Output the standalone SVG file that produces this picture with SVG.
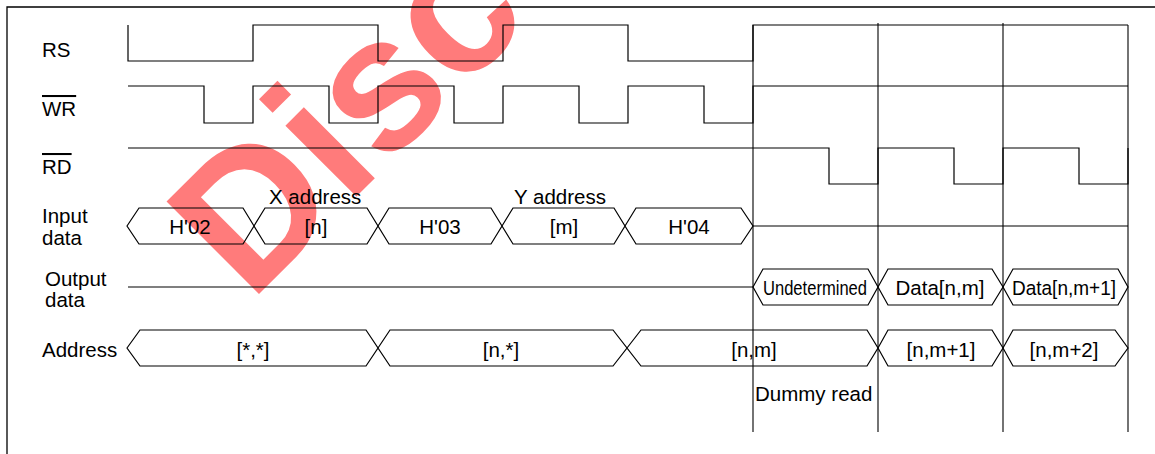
<svg xmlns="http://www.w3.org/2000/svg" width="1155" height="454" viewBox="0 0 1155 454">
<style>
.sig{fill:none;stroke:#000;stroke-width:1.2;stroke-linejoin:miter}
.bus{fill:none;stroke:#000;stroke-width:1.2}
.grid{stroke:#000;stroke-width:1.1}
.frame{stroke:#000;stroke-width:1.3;fill:none}
.t{font-family:"Liberation Sans",Arial,sans-serif;font-size:20.5px;fill:#000}
.c{text-anchor:middle}
.ov{text-decoration:overline}
.wm{font-family:"Liberation Sans",Arial,sans-serif;font-weight:bold;font-size:190px;fill:#FF7B7B}
</style>
<rect x="0" y="0" width="1155" height="454" fill="#fff"/>
<g id="watermark">
<text class="wm" transform="translate(250,303) rotate(-45)">Disc</text>
</g>
<path class="frame" d="M7,454 V7 H1155"/>
<g id="connectors">
<line class="grid" x1="753" y1="25" x2="753" y2="432"/>
<line class="grid" x1="878" y1="23" x2="878" y2="432"/>
<line class="grid" x1="1003" y1="23" x2="1003" y2="432"/>
<line class="grid" x1="1128" y1="25" x2="1128" y2="432"/>
</g>
<g id="rs">
<text class="t" x="42" y="57">RS</text>
<path class="sig" d="M128,25 V61 H253 V25 H378 V61 H503 V25 H628 V61 H753 V25 H1128"/>
</g>
<g id="wr">
<text class="t ov" x="42" y="116">WR</text>
<path class="sig" d="M128,86 H204 V123 H253 V86 H329 V123 H378 V86 H454 V123 H503 V86 H579 V123 H628 V86 H704 V123 H753 V86 H1128"/>
</g>
<g id="rd">
<text class="t ov" x="42" y="174">RD</text>
<path class="sig" d="M128,148 H829 V184 H878 V148 H954 V184 H1003 V148 H1079 V184 H1128 V148"/>
</g>
<g id="input-data">
<text class="t" x="42" y="223">Input</text>
<text class="t" x="42" y="245">data</text>
<text class="t" x="269" y="204">X address</text>
<text class="t" x="514" y="204">Y address</text>
<polygon class="bus" points="127,226 139,208 243,208 254,226 243,244 139,244"/>
<polygon class="bus" points="254,226 265,208 367,208 378,226 367,244 265,244"/>
<polygon class="bus" points="378,226 389,208 491,208 502,226 491,244 389,244"/>
<polygon class="bus" points="502,226 513,208 614,208 625,226 614,244 513,244"/>
<polygon class="bus" points="625,226 636,208 741,208 753,226 741,244 636,244"/>
<line class="bus" x1="753" y1="226" x2="1128" y2="226"/>
<text class="t c" x="190" y="234">H'02</text>
<text class="t c" x="316" y="234">[n]</text>
<text class="t c" x="440" y="234">H'03</text>
<text class="t c" x="564" y="234">[m]</text>
<text class="t c" x="689" y="234">H'04</text>
</g>
<g id="output-data">
<text class="t" x="45" y="286">Output</text>
<text class="t" x="45" y="307">data</text>
<line class="bus" x1="128" y1="287" x2="753" y2="287"/>
<polygon class="bus" points="753,287 763,269 868,269 878,287 868,305 763,305"/>
<polygon class="bus" points="878,287 888,269 992,269 1003,287 992,305 888,305"/>
<polygon class="bus" points="1003,287 1013,269 1118,269 1128,287 1118,305 1013,305"/>
<text class="t" x="763" y="295" textLength="104" lengthAdjust="spacingAndGlyphs">Undetermined</text>
<text class="t c" x="940" y="295">Data[n,m]</text>
<text class="t" x="1012" y="295" textLength="104" lengthAdjust="spacingAndGlyphs">Data[n,m+1]</text>
</g>
<g id="address">
<text class="t" x="42" y="357">Address</text>
<polygon class="bus" points="127,348 140,330 366,330 378,348 366,366 140,366"/>
<polygon class="bus" points="378,348 390,330 613,330 627,348 613,366 390,366"/>
<polygon class="bus" points="627,348 641,330 867,330 878,348 867,366 641,366"/>
<polygon class="bus" points="878,348 888,330 992,330 1003,348 992,366 888,366"/>
<polygon class="bus" points="1003,348 1013,330 1115,330 1128,348 1115,366 1013,366"/>
<text class="t c" x="253" y="357">[*,*]</text>
<text class="t c" x="501" y="357">[n,*]</text>
<text class="t c" x="754" y="357">[n,m]</text>
<text class="t c" x="941" y="357">[n,m+1]</text>
<text class="t c" x="1064" y="357">[n,m+2]</text>
</g>
<g id="dummy-read">
<text class="t" x="755" y="401">Dummy read</text>
</g>
</svg>
